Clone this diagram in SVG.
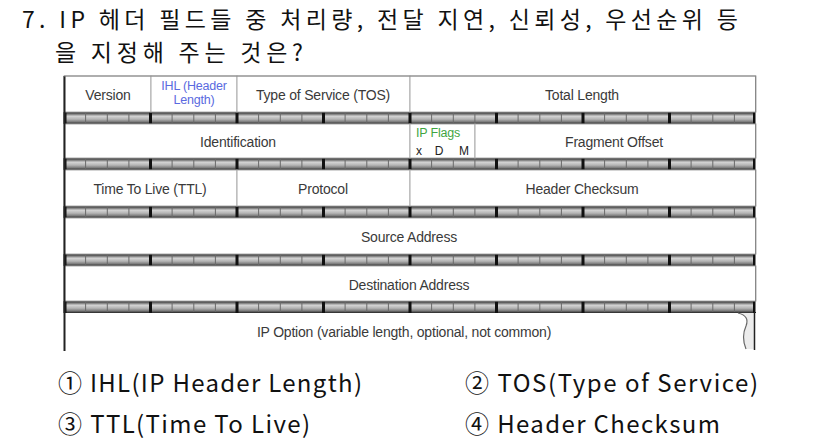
<svg xmlns="http://www.w3.org/2000/svg" xmlns:xlink="http://www.w3.org/1999/xlink" width="826" height="442" viewBox="0 0 826 442">
<style>
.q{font-family:"Noto Sans CJK KR","Liberation Sans",sans-serif;fill:#111;}
.t{font-family:"Liberation Sans",Arial,sans-serif;font-size:14px;fill:#3a3a3a;text-anchor:middle;letter-spacing:-0.2px;}
.cell{fill:#fff;stroke:#aaa;stroke-width:1;}
.maj{stroke:#111;stroke-width:3;}
.min{stroke:#6a6a6a;stroke-width:1;}
</style>
<defs>
<linearGradient id="band" x1="0" y1="0" x2="0" y2="1">
<stop offset="0" stop-color="#222"/>
<stop offset="0.18" stop-color="#7a7a7a"/>
<stop offset="0.35" stop-color="#d4d4d4"/>
<stop offset="0.6" stop-color="#b4b4b4"/>
<stop offset="0.82" stop-color="#7a7a7a"/>
<stop offset="1" stop-color="#222"/>
</linearGradient>
<g id="ruler">
<rect x="64" y="0" width="692" height="12" fill="url(#band)"/>
<path class="min" d="M85.6 1V11M107.3 1V11M128.9 1V11M172.1 1V11M193.8 1V11M215.4 1V11M258.6 1V11M280.3 1V11M301.9 1V11M345.1 1V11M366.8 1V11M388.4 1V11M431.6 1V11M453.3 1V11M474.9 1V11M518.1 1V11M539.8 1V11M561.4 1V11M604.6 1V11M626.3 1V11M647.9 1V11M691.1 1V11M712.8 1V11M734.4 1V11"/>
<path class="maj" d="M65 0V12M150.5 0V12M237 0V12M323.5 0V12M410 0V12M496.5 0V12M583 0V12M669.5 0V12M754.5 0V12"/>
</g>
</defs>
<rect width="826" height="442" fill="#fff"/>

<g id="question">
<text class="q" x="22" y="28" font-size="23" textLength="716" lengthAdjust="spacing">7. IP 헤더 필드들 중 처리량, 전달 지연, 신뢰성, 우선순위 등</text>
<text class="q" x="55" y="61" font-size="23" textLength="248" lengthAdjust="spacing">을 지정해 주는 것은?</text>
</g>

<g id="rulers">
<use xlink:href="#ruler" href="#ruler" y="112"/>
<use xlink:href="#ruler" href="#ruler" y="158"/>
<use xlink:href="#ruler" href="#ruler" y="206"/>
<use xlink:href="#ruler" href="#ruler" y="254"/>
<use xlink:href="#ruler" href="#ruler" y="301"/>
</g>

<g id="version"><rect class="cell" x="64" y="76" width="87" height="36"/><text class="t" x="108" y="100">Version</text></g>
<g id="ihl"><rect class="cell" x="151" y="76" width="86" height="36"/><text class="t" x="194" y="90" style="font-size:12.5px;fill:#5a6ae0">IHL (Header</text><text class="t" x="194" y="104" style="font-size:12.5px;fill:#5a6ae0">Length)</text></g>
<g id="tos"><rect class="cell" x="237" y="76" width="173" height="36"/><text class="t" x="323" y="100">Type of Service (TOS)</text></g>
<g id="total-length"><rect class="cell" x="410" y="76" width="346" height="36"/><text class="t" x="582" y="100">Total Length</text></g>

<g id="identification"><rect class="cell" x="64" y="124" width="346" height="34"/><text class="t" x="238" y="147">Identification</text></g>
<g id="ip-flags"><rect class="cell" x="410" y="124" width="65" height="34"/><text class="t" x="416" y="137" style="text-anchor:start;font-size:12.5px;fill:#3fa63f">IP Flags</text><text class="t" x="419" y="155" style="font-size:12px;fill:#222">x</text><text class="t" x="439" y="155" style="font-size:12px;fill:#222">D</text><text class="t" x="464" y="155" style="font-size:12px;fill:#222">M</text></g>
<g id="fragment-offset"><rect class="cell" x="475" y="124" width="281" height="34"/><text class="t" x="614" y="147">Fragment Offset</text></g>

<g id="ttl"><rect class="cell" x="64" y="170" width="173" height="36"/><text class="t" x="150" y="194">Time To Live (TTL)</text></g>
<g id="protocol"><rect class="cell" x="237" y="170" width="173" height="36"/><text class="t" x="323" y="194">Protocol</text></g>
<g id="header-checksum"><rect class="cell" x="410" y="170" width="346" height="36"/><text class="t" x="582" y="194">Header Checksum</text></g>

<g id="source-address"><rect class="cell" x="64" y="218" width="692" height="36"/><text class="t" x="409" y="242">Source Address</text></g>
<g id="destination-address"><rect class="cell" x="64" y="266" width="692" height="35"/><text class="t" x="409" y="290">Destination Address</text></g>

<g id="ip-option">
<text class="t" x="404" y="337">IP Option (variable length, optional, not common)</text>
<path d="M738 313 Q750 316 746 326 Q741 337 746 349 L754 349 L754 313 Z" fill="#ececec"/>
<path d="M738 313 Q750 316 746 326 Q741 337 746 349" fill="none" stroke="#666" stroke-width="1.2"/>
<line x1="754.5" y1="312" x2="754.5" y2="350" stroke="#222" stroke-width="1.5"/>
</g>
<g id="frame">
<line x1="64.5" y1="76" x2="64.5" y2="351" stroke="#222" stroke-width="2"/>
<line x1="64" y1="76" x2="756" y2="76" stroke="#888" stroke-width="1"/>
<line x1="755.5" y1="76" x2="755.5" y2="312" stroke="#888" stroke-width="1"/>
</g>

<g id="options">
<text class="q" x="58" y="392" font-size="24" textLength="304" lengthAdjust="spacing">① IHL(IP Header Length)</text>
<text class="q" x="465" y="392" font-size="24" textLength="293" lengthAdjust="spacing">② TOS(Type of Service)</text>
<text class="q" x="58" y="433" font-size="24" textLength="252" lengthAdjust="spacing">③ TTL(Time To Live)</text>
<text class="q" x="465" y="433" font-size="24" textLength="255" lengthAdjust="spacing">④ Header Checksum</text>
</g>
</svg>
